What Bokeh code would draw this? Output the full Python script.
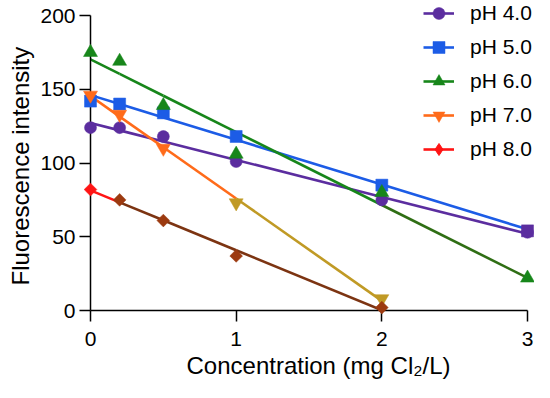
import numpy as np
from bokeh.plotting import figure
from bokeh.models import (ColumnDataSource, Range1d, FixedTicker, Legend,
                          LegendItem, Title)
from bokeh.embed import file_html
from bokeh.resources import INLINE

# ---------------- data ----------------
conc_long = [0, 0.2, 0.5, 1, 2, 3]        # mg Cl2/L (pH 4, 5, 6)
conc_short = [0, 0.2, 0.5, 1, 2]          # mg Cl2/L (pH 7, 8)
ph40 = [124, 124, 118, 101, 75, 53]
ph50 = [142, 140, 134, 118, 85, 54]
ph60 = [175, 169, 139, 106, 80, 22]
ph70 = [146, 133, 110, 73, 8]
ph80 = [82, 75, 61, 37, 2]
series_labels = ["pH 4.0", "pH 5.0", "pH 6.0", "pH 7.0", "pH 8.0"]
x_ticks = [0, 1, 2, 3]
y_ticks = [0, 50, 100, 150, 200]
x_title = "Concentration (mg Cl\u2082/L)"
y_title = "Fluorescence intensity"

# ---------------- style ----------------
FONT = "Liberation Sans"
purple = "#5b2d9f"
blue = "#1c5ce6"
green = "#17861a"
orange = "#ff6b1a"
red = "#ff1414"
brown_line = "#7c3412"
brown_mark = "#9c3a10"
olive = "#c09a25"
dkgreen = "#2f6e14"

styles = [
    dict(marker="circle", size=12, angle=0.0, leg_marker=None, leg_color=purple,
         seg_colors=[purple] * 5, mk_colors=[purple] * 6),
    dict(marker="square", size=12, angle=0.0, leg_marker=None, leg_color=blue,
         seg_colors=[blue] * 5, mk_colors=[blue] * 5 + [purple]),
    dict(marker="triangle", size=14, angle=0.0, leg_marker=None, leg_color=green,
         seg_colors=[green] * 4 + [dkgreen], mk_colors=[green] * 6),
    dict(marker="inverted_triangle", size=14, angle=0.0, leg_marker=None, leg_color=orange,
         seg_colors=[orange] * 3 + [olive], mk_colors=[orange] * 3 + [olive, olive]),
    dict(marker="square", size=9, angle=np.pi / 4, leg_marker="diamond", leg_color=red,
         seg_colors=[red] + [brown_line] * 3, mk_colors=[red] + [brown_mark] * 4),
]
data = [(conc_long, ph40), (conc_long, ph50), (conc_long, ph60),
        (conc_short, ph70), (conc_short, ph80)]

p = figure(width=534, height=382, output_backend="svg", toolbar_location=None,
           x_range=Range1d(0, 3.048), y_range=Range1d(0, 210.2),
           min_border_left=89, min_border_right=0, min_border_top=0,
           min_border_bottom=72)
p.outline_line_color = None
p.grid.visible = False
p.background_fill_color = "white"
p.border_fill_color = "white"

for ax, ticks, bnds, stand in ((p.xaxis, x_ticks, (0, 3), 10),
                               (p.yaxis, y_ticks, (0, 200), 4)):
    ax.ticker = FixedTicker(ticks=ticks)
    ax.bounds = bnds
    ax.axis_line_width = 1.5
    ax.axis_line_color = "black"
    ax.major_tick_line_width = 1.5
    ax.major_tick_line_color = "black"
    ax.major_tick_in = 0
    ax.major_tick_out = 11
    ax.minor_tick_line_color = None
    ax.major_label_text_font = FONT
    ax.major_label_text_font_size = "21px"
    ax.major_label_text_color = "black"
    ax.major_label_standoff = stand

p.add_layout(Title(text=x_title, align="left", offset=96, standoff=2,
                   text_font=FONT, text_font_size="24px", text_font_style="normal",
                   text_color="black"), "below")
p.add_layout(Title(text=y_title, align="left", offset=25, standoff=8,
                   text_font=FONT, text_font_size="24px", text_font_style="normal",
                   text_color="black"), "left")

items = []
for lab, (xs, ys), st in zip(series_labels, data, styles):
    xs = np.asarray(xs, dtype=float)
    ys = np.asarray(ys, dtype=float)
    slope, icpt = np.polyfit(xs, ys, 1)
    fit = icpt + slope * xs
    seg_src = ColumnDataSource(dict(x0=xs[:-1], y0=fit[:-1], x1=xs[1:], y1=fit[1:],
                                    c=st["seg_colors"]))
    seg = p.segment("x0", "y0", "x1", "y1", source=seg_src, line_color="c",
                    line_width=2.6)
    mk_src = ColumnDataSource(dict(x=xs, y=ys, c=st["mk_colors"]))
    mk = p.scatter("x", "y", source=mk_src, marker=st["marker"], size=st["size"],
                   angle=st["angle"], fill_color="c", line_color="c", line_width=0.5,
                   level="overlay")
    leg_rs = [seg, mk]
    if st["leg_marker"] is not None:
        # legend-only glyph (nothing drawn in the plot area)
        dummy = p.scatter(x=[np.nan], y=[np.nan], marker=st["leg_marker"],
                          size=st["size"], fill_color=st["leg_color"],
                          line_color=st["leg_color"])
        leg_rs = [seg, dummy]
    items.append(LegendItem(label=lab, renderers=leg_rs, index=0))

legend = Legend(items=items, location=(333, 146), border_line_color=None,
                background_fill_alpha=0, label_text_font=FONT,
                label_text_font_size="21px", label_text_color="black",
                glyph_width=31, glyph_height=30, label_height=30, spacing=4,
                padding=0, margin=0, label_standoff=16)
p.add_layout(legend)

open("out.html", "w").write(file_html(p, INLINE))
